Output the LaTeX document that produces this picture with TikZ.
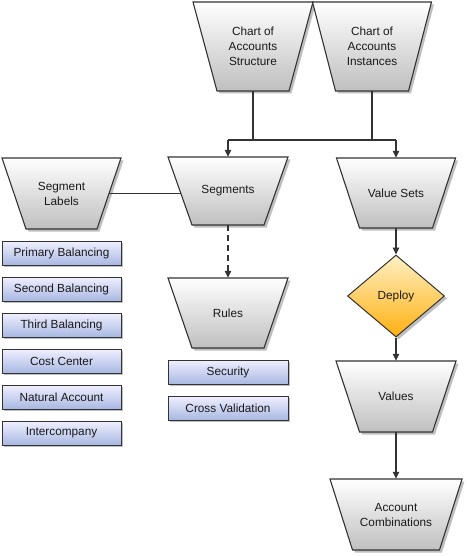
\documentclass[tikz,border=0pt]{standalone}
\usepackage{fontspec}
\setmainfont{Liberation Sans}
\usetikzlibrary{shapes.geometric,shadows,calc,arrows.meta}
\definecolor{edge}{HTML}{333333}
\definecolor{txt}{HTML}{1A1A1A}
\tikzset{
  trapfill/.style={draw=edge, line width=1.1pt, line join=miter, top color=white, bottom color=black!25,
    drop shadow={shadow xshift=2.5pt, shadow yshift=-2.5pt, fill=black, opacity=0.25}},
  textnode/.style={draw=none, inner sep=0pt, align=center, text=txt},
  boxnode/.style={draw=edge, line width=1pt, minimum width=119pt, minimum height=24pt, inner sep=0pt,
    text=txt, top color=white!94!blue, bottom color={rgb,255:red,168;green,184;blue,226},
    drop shadow={shadow xshift=2pt, shadow yshift=-2pt, fill=black, opacity=0.25}},
  decision/.style={shape=diamond, draw=edge, line width=1pt, minimum width=97pt, minimum height=82pt,
    aspect=1.18, inner sep=0pt, text=txt, top color={rgb,255:red,255;green,240;blue,196},
    bottom color={rgb,255:red,255;green,176;blue,16},
    drop shadow={shadow xshift=2.5pt, shadow yshift=-2.5pt, fill=black, opacity=0.25}},
  conn/.style={draw=edge, line width=1.3pt},
  arr/.style={conn, -{Triangle[length=7pt,width=6.5pt]}},
}
\newcommand\mytrap[7]{% name, cx, ytop, top width, bottom width, height, text
  \path[trapfill] (#2-#4/2,#3) -- (#2+#4/2,#3) -- (#2+#5/2,#3+#6) -- (#2-#5/2,#3+#6) -- cycle;
  \node[textnode, minimum width=#4pt, minimum height=#6pt] (#1) at (#2,#3+#6/2) {#7};
}
\begin{document}
\begin{tikzpicture}[x=1pt,y=-1pt, font=\fontsize{11.8}{15}\selectfont]
\useasboundingbox (0,0) rectangle (466,556);

\mytrap{coas}{253}{2}{120}{72}{89}{Chart of\\Accounts\\Structure}
\mytrap{coai}{372}{2}{119}{73}{89}{Chart of\\Accounts\\Instances}
\mytrap{seglab}{61.5}{158}{119}{71}{71}{Segment\\Labels}
\mytrap{seg}{228}{157}{120}{72}{68}{Segments}
\mytrap{vs}{396}{158}{119}{73}{70}{Value Sets}
\mytrap{rules}{228}{278}{120}{72}{70}{Rules}
\mytrap{vals}{396}{361}{120}{73}{71}{Values}
\mytrap{acc}{396}{479}{132}{87}{71}{Account\\Combinations}

\node[boxnode] (pb) at (61.5,253) {Primary Balancing};
\node[boxnode] (sb) at (61.5,289) {Second Balancing};
\node[boxnode] (tb) at (61.5,325) {Third Balancing};
\node[boxnode] (cc) at (61.5,361) {Cost Center};
\node[boxnode] (na) at (61.5,397) {Natural Account};
\node[boxnode] (ic) at (61.5,433) {Intercompany};

\node[boxnode, minimum width=120pt] (sec) at (228,372) {Security};
\node[boxnode, minimum width=120pt] (cv) at (228,408) {Cross Validation};

\node[decision] (dep) at (396,296) {Deploy};

\coordinate (jl) at (228,140);
\coordinate (jr) at (396,140);
\draw[conn] (coas.south) -- (coas.south |- jl);
\draw[conn] (coai.south) -- (coai.south |- jl);
\draw[conn] (jl) -- (jr);
\draw[arr] (jl) -- (seg.north);
\draw[arr] (jr) -- (vs.north);

\draw[conn] ([xshift=-12pt]seglab.east) -- ([xshift=13pt]seglab.east -| seg.west);
\draw[arr, dash pattern=on 6pt off 4pt] (seg.south) -- (rules.north);

\draw[arr] (vs.south) -- (dep.north);
\draw[arr] (dep.south) -- (vals.north);
\draw[arr] (vals.south) -- (acc.north);
\end{tikzpicture}
\end{document}
